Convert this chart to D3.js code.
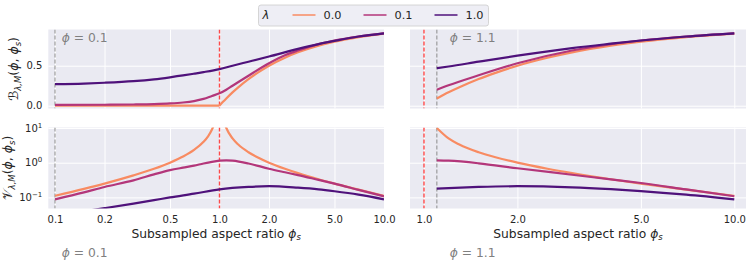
<!DOCTYPE html>
<html>
<head>
<meta charset="utf-8">
<script src="https://cdn.jsdelivr.net/npm/d3@7"></script>
<style>
  body { margin: 0; background: #fff; }
  svg { font-family: "DejaVu Sans", sans-serif; }
  .grid line { stroke: #fff; stroke-width: 1; }
  .grid path { display: none; }
  .tick text { fill: #262626; }
</style>
</head>
<body>
<div id="chart"></div>
<script>
// lambda values and colours
const lambdas = ["0.0", "0.1", "1.0"];
const colors = ["#f88b62", "#b3367a", "#4f127b"];

// tick labels
const xTicksLeft = [0.1, 0.2, 0.5, 1.0, 2.0, 5.0, 10.0];
const xTicksRight = [1.0, 2.0, 5.0, 10.0];
const yTicksBias = [0.0, 0.5];
const yTicksVar = [0.1, 1, 10];

const phiLeft = 0.1;
const phiRight = 1.1;

// bias, phi = 0.1  ([phi_s, value])
const biasL0flat = [[0.1, 0], [0.5, 0], [1.0, 0]];
const biasL0rise = [[1.0, 0], [1.05, 0.048], [1.1, 0.091], [1.2, 0.167], [1.3, 0.23], [1.5, 0.333], [1.7, 0.41], [2, 0.5], [2.5, 0.6], [3, 0.667], [4, 0.75], [5, 0.8], [7, 0.857], [10, 0.9]];
const biasL1 = [[0.1, 0.01], [0.2, 0.012], [0.3, 0.015], [0.4, 0.02], [0.5, 0.028], [0.6, 0.04], [0.7, 0.058], [0.8, 0.085], [0.9, 0.122], [1.0, 0.155], [1.1, 0.2], [1.2, 0.25], [1.5, 0.375], [2, 0.53], [2.5, 0.63], [3, 0.69], [4, 0.77], [5, 0.815], [7, 0.865], [10, 0.905]];
const biasL2 = [[0.1, 0.27], [0.15, 0.277], [0.2, 0.287], [0.3, 0.307], [0.4, 0.33], [0.5, 0.355], [0.6, 0.378], [0.7, 0.4], [0.8, 0.42], [1.0, 0.458], [1.2, 0.5], [1.5, 0.55], [2, 0.615], [3, 0.71], [4, 0.77], [5, 0.81], [7, 0.865], [10, 0.905]];

// bias, phi = 1.1
const biasR0 = [[1.1, 0.091], [1.2, 0.167], [1.3, 0.23], [1.5, 0.333], [1.7, 0.41], [2, 0.5], [2.5, 0.6], [3, 0.667], [4, 0.75], [5, 0.8], [7, 0.857], [10, 0.9]];
const biasR1 = [[1.1, 0.2], [1.2, 0.255], [1.5, 0.38], [2, 0.53], [3, 0.69], [4, 0.77], [5, 0.815], [7, 0.865], [10, 0.905]];
const biasR2 = [[1.1, 0.47], [1.2, 0.49], [1.5, 0.55], [2, 0.625], [3, 0.72], [4, 0.775], [5, 0.815], [7, 0.865], [10, 0.905]];

// variance, phi = 0.1
const varL0left = [[0.1, 0.111], [0.15, 0.176], [0.2, 0.25], [0.3, 0.43], [0.4, 0.667], [0.5, 1.0], [0.6, 1.5], [0.7, 2.33], [0.8, 4.0], [0.85, 5.67], [0.9, 9.0], [0.93, 13.3]];
const varL0right = [[1.07, 14.3], [1.1, 10], [1.2, 5], [1.3, 3.33], [1.5, 2.0], [1.7, 1.43], [2, 1.0], [2.5, 0.667], [3, 0.5], [4, 0.333], [5, 0.25], [7, 0.167], [10, 0.111]];
const varL1 = [[0.1, 0.088], [0.15, 0.14], [0.2, 0.2], [0.3, 0.31], [0.4, 0.46], [0.5, 0.61], [0.6, 0.72], [0.7, 0.82], [0.8, 0.95], [0.9, 1.06], [1.0, 1.14], [1.1, 1.17], [1.2, 1.14], [1.5, 0.95], [2, 0.67], [2.5, 0.53], [3, 0.44], [4, 0.32], [5, 0.25], [7, 0.165], [10, 0.107]];
const varL2 = [[0.1, 0.03], [0.15, 0.04], [0.2, 0.049], [0.3, 0.066], [0.4, 0.083], [0.5, 0.1], [0.7, 0.128], [1.0, 0.17], [1.5, 0.2], [2, 0.21], [3, 0.19], [4, 0.17], [5, 0.15], [7, 0.12], [10, 0.088]];

// variance, phi = 1.1
const varR0 = [[1.1, 10], [1.2, 5], [1.3, 3.33], [1.5, 2.0], [1.7, 1.43], [2, 1.0], [2.5, 0.667], [3, 0.5], [4, 0.333], [5, 0.25], [7, 0.167], [10, 0.111]];
const varR1 = [[1.1, 1.17], [1.2, 1.14], [1.5, 0.96], [2, 0.69], [3, 0.45], [4, 0.33], [5, 0.26], [7, 0.17], [10, 0.108]];
const varR2 = [[1.1, 0.178], [1.2, 0.185], [1.5, 0.2], [2, 0.21], [3, 0.195], [4, 0.172], [5, 0.152], [7, 0.12], [10, 0.088]];

const W = 747, H = 260;
const svg = d3.select("#chart").append("svg").attr("width", W).attr("height", H);

const colL = [48.3, 384], colR = [410, 746];
const rowTop = [29.5, 108.5], rowBot = [127.5, 208.5];

const xL = d3.scaleLog().domain([Math.pow(10, -1.0407), 10]).range(colL);
const xR = d3.scaleLog().domain([Math.pow(10, -0.0451), Math.pow(10, 1.0377)]).range(colR);
const yTop = d3.scaleLinear().domain([-0.035, 0.9525]).range([rowTop[1], rowTop[0]]);
const yBot = d3.scaleLog().domain([Math.pow(10, -1.32), Math.pow(10, 1.014)]).range([rowBot[1], rowBot[0]]);

let clipId = 0;
function panel(x, y, xTicks, yTicks, phi, segments) {
  const [x0, x1] = x.range();
  const [y1, y0] = y.range();
  const g = svg.append("g");
  g.append("rect").attr("x", x0).attr("y", y0).attr("width", x1 - x0).attr("height", y1 - y0).attr("fill", "#eaeaf2");

  g.append("g").attr("class", "grid").attr("transform", `translate(0,${y1})`)
    .call(d3.axisBottom(x).tickValues(xTicks).tickSize(-(y1 - y0)).tickFormat(""));
  g.append("g").attr("class", "grid").attr("transform", `translate(${x0},0)`)
    .call(d3.axisLeft(y).tickValues(yTicks).tickSize(-(x1 - x0)).tickFormat(""));

  const id = "clip" + (clipId++);
  g.append("clipPath").attr("id", id).append("rect")
    .attr("x", x0).attr("y", y0).attr("width", x1 - x0).attr("height", y1 - y0);
  const plot = g.append("g").attr("clip-path", `url(#${id})`);

  // reference lines: interpolation threshold and phi
  plot.append("line").attr("x1", x(1)).attr("x2", x(1)).attr("y1", y0).attr("y2", y1)
    .attr("stroke", "#ff2a2a").attr("stroke-opacity", 0.85).attr("stroke-width", 1.4).attr("stroke-dasharray", "4,2");
  plot.append("line").attr("x1", x(phi)).attr("x2", x(phi)).attr("y1", y0).attr("y2", y1)
    .attr("stroke", "#8c8c8c").attr("stroke-opacity", 0.85).attr("stroke-width", 1.2).attr("stroke-dasharray", "4,2");

  const line = d3.line().x(d => x(d[0])).y(d => y(d[1])).curve(d3.curveMonotoneX);
  segments.forEach(s => {
    plot.append("path").datum(s.data).attr("d", line)
      .attr("fill", "none").attr("stroke", colors[s.k]).attr("stroke-width", 2.2)
      .attr("stroke-linejoin", "round");
  });
  return g;
}

panel(xL, yTop, xTicksLeft, yTicksBias, phiLeft, [
  {k: 0, data: biasL0flat}, {k: 0, data: biasL0rise}, {k: 1, data: biasL1}, {k: 2, data: biasL2}]);
panel(xR, yTop, xTicksRight, yTicksBias, phiRight, [
  {k: 0, data: biasR0}, {k: 1, data: biasR1}, {k: 2, data: biasR2}]);
panel(xL, yBot, xTicksLeft, yTicksVar, phiLeft, [
  {k: 0, data: varL0left}, {k: 0, data: varL0right}, {k: 1, data: varL1}, {k: 2, data: varL2}]);
panel(xR, yBot, xTicksRight, yTicksVar, phiRight, [
  {k: 0, data: varR0}, {k: 1, data: varR1}, {k: 2, data: varR2}]);

// x tick labels
[[xL, xTicksLeft], [xR, xTicksRight]].forEach(([x, ticks]) => {
  const ax = svg.append("g").attr("transform", `translate(0,${rowBot[1]})`)
    .call(d3.axisBottom(x).tickValues(ticks).tickSize(0).tickPadding(7).tickFormat(d3.format(".1f")));
  ax.select(".domain").remove();
  ax.selectAll("text").attr("font-size", 10).attr("font-family", "DejaVu Sans");
  const cx = (x.range()[0] + x.range()[1]) / 2;
  const t = svg.append("text").attr("x", cx).attr("y", 237.5).attr("text-anchor", "middle")
    .attr("font-size", 12.3).attr("fill", "#262626");
  t.append("tspan").text("Subsampled aspect ratio ");
  t.append("tspan").attr("font-style", "italic").text("ϕ");
  t.append("tspan").attr("font-style", "italic").attr("font-size", 8.5).attr("dy", 2.5).text("s");
});

// y tick labels
const ayTop = svg.append("g").attr("transform", `translate(${colL[0]},0)`)
  .call(d3.axisLeft(yTop).tickValues(yTicksBias).tickSize(0).tickPadding(6).tickFormat(d3.format(".1f")));
ayTop.select(".domain").remove();
ayTop.selectAll("text").attr("font-size", 10).attr("font-family", "DejaVu Sans");

const ayBot = svg.append("g").attr("transform", `translate(${colL[0]},0)`)
  .call(d3.axisLeft(yBot).tickValues(yTicksVar).tickSize(0).tickPadding(6).tickFormat(""));
ayBot.select(".domain").remove();
ayBot.selectAll(".tick text").each(function(d) {
  const t = d3.select(this).attr("font-size", 10).attr("font-family", "DejaVu Sans");
  const e = Math.round(Math.log10(d));
  t.append("tspan").text("10");
  t.append("tspan").attr("font-size", 7).attr("dy", -4).text(e < 0 ? "−" + (-e) : String(e));
});

// y axis labels
function yLabel(x, cy, head) {
  const t = svg.append("text").attr("transform", `translate(${x},${cy}) rotate(-90)`)
    .attr("text-anchor", "middle").attr("font-size", 12.5).attr("fill", "#262626");
  t.append("tspan").attr("font-size", 13).text(head);
  t.append("tspan").attr("font-size", 8.5).attr("dy", 2.5).attr("font-style", "italic").text("λ,M");
  t.append("tspan").attr("dy", -2.5).text("(");
  t.append("tspan").attr("font-style", "italic").text("ϕ");
  t.append("tspan").text(", ");
  t.append("tspan").attr("font-style", "italic").text("ϕ");
  t.append("tspan").attr("font-size", 8.5).attr("dy", 2.5).attr("font-style", "italic").text("s");
  t.append("tspan").attr("dy", -2.5).text(")");
}
yLabel(18, (rowTop[0] + rowTop[1]) / 2, "ℬ");
yLabel(12, (rowBot[0] + rowBot[1]) / 2, "𝒱");

// phi annotations (inside top panels and below the bottom axes)
[[xL, phiLeft], [xR, phiRight]].forEach(([x, phi]) => {
  [41.5, 256.5].forEach(yy => {
    const t = svg.append("text").attr("x", x(phi * 1.1)).attr("y", yy)
      .attr("font-size", 12.3).attr("fill", "#808080");
    t.append("tspan").attr("font-style", "italic").text("ϕ");
    t.append("tspan").text(" = " + phi.toFixed(1));
  });
});

// legend
const lg = svg.append("g");
lg.append("rect").attr("x", 258.5).attr("y", 5).attr("width", 230).attr("height", 21).attr("rx", 2.5)
  .attr("fill", "#eaeaf2").attr("fill-opacity", 0.8).attr("stroke", "#cccccc").attr("stroke-width", 0.8);
lg.append("text").attr("x", 262.5).attr("y", 19).attr("font-size", 11.5).attr("font-style", "italic")
  .attr("fill", "#262626").text("λ");
lambdas.forEach((l, i) => {
  const lx = 292.5 + i * 71;
  lg.append("line").attr("x1", lx).attr("x2", lx + 23).attr("y1", 15).attr("y2", 15)
    .attr("stroke", colors[i]).attr("stroke-width", 1.5);
  lg.append("text").attr("x", lx + 31).attr("y", 19).attr("font-size", 11.3).attr("fill", "#262626").text(l);
});
</script>
</body>
</html>
